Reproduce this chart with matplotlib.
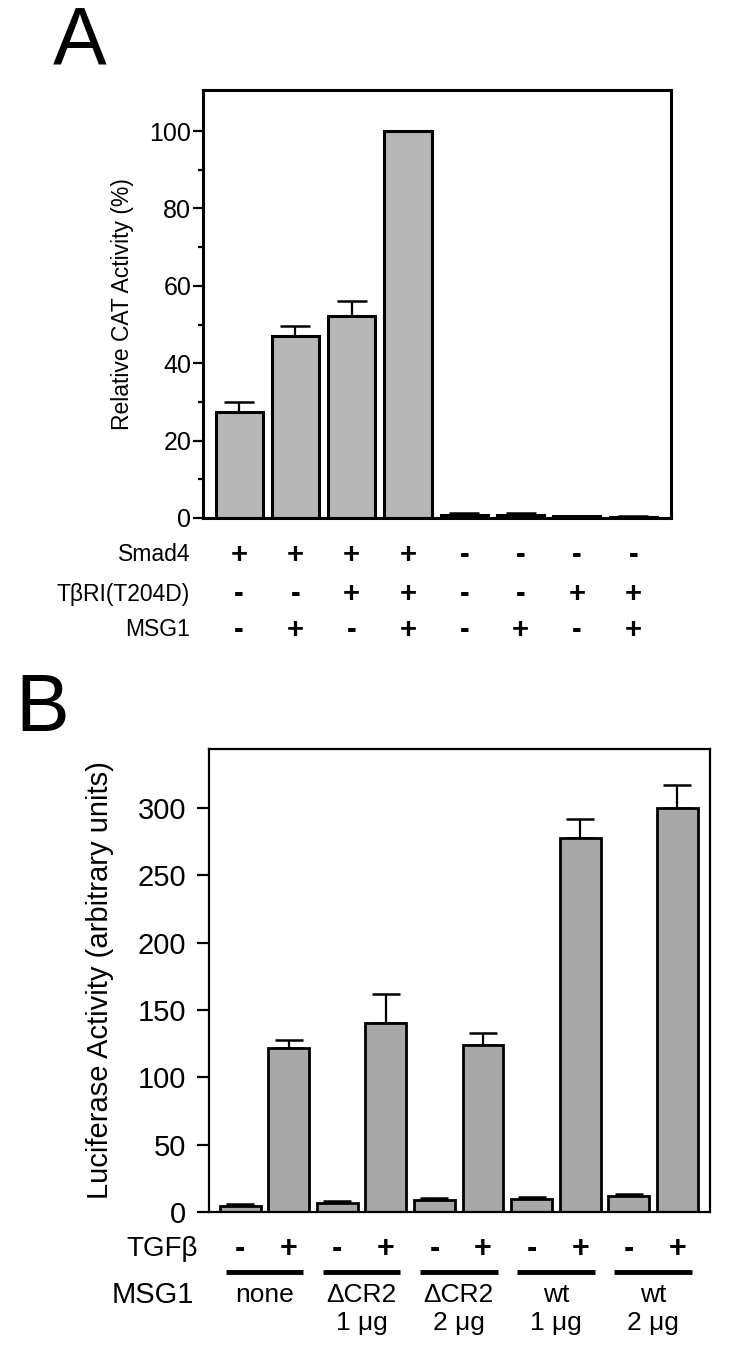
import numpy as np
import matplotlib
matplotlib.use('Agg')
import matplotlib.pyplot as plt
from matplotlib.transforms import blended_transform_factory

plt.rcParams['font.family'] = ['Liberation Sans', 'DejaVu Sans']

# ---- panel A data ----
a_vals = [27.5, 47.0, 52.2, 100.0, 0.9, 0.8, 0.4, 0.3]
a_err = [2.5, 2.7, 3.8, 0.0, 0.4, 0.4, 0.2, 0.1]
smad4 = ['+', '+', '+', '+', '-', '-', '-', '-']
tbri = ['-', '-', '+', '+', '-', '-', '+', '+']
msg1_a = ['-', '+', '-', '+', '-', '+', '-', '+']
a_rows = [('Smad4', smad4), ('TβRI(T204D)', tbri), ('MSG1', msg1_a)]

# ---- panel B data ----
b_vals = [4.5, 122.0, 7.0, 140.0, 9.0, 124.0, 10.0, 278.0, 12.0, 300.0]
b_err = [1.5, 6.0, 1.5, 22.0, 1.5, 9.0, 1.5, 14.0, 1.2, 17.0]
tgfb = ['-', '+'] * 5
msg1_groups = [('none', ''), ('ΔCR2', '1 μg'), ('ΔCR2', '2 μg'),
               ('wt', '1 μg'), ('wt', '2 μg')]

W, H = 732, 1349
fig = plt.figure(figsize=(W / 100, H / 100), dpi=100)


def fy(py):
    return 1 - py / H


# ============================================================
# A
# ============================================================
ax_a = fig.add_axes([203 / W, fy(518), 468 / W, 428 / H])
xa = np.arange(len(a_vals))
ax_a.bar(xa, a_vals, width=0.835, color='#b6b6b6', edgecolor='black',
         linewidth=2.2, zorder=2)
ax_a.errorbar(xa, a_vals, yerr=[np.zeros(len(a_err)), a_err], fmt='none',
              ecolor='black', elinewidth=1.6, capsize=11, capthick=1.8, zorder=1)
ax_a.set_xlim(-0.64, 7.67)
ax_a.set_ylim(0, 110.6)
ax_a.set_yticks([0, 20, 40, 60, 80, 100])
ax_a.set_yticks([10, 30, 50, 70, 90], minor=True)
ax_a.set_xticks([])
ax_a.tick_params(axis='y', which='major', direction='out', length=7, width=1.6,
                 labelsize=18, pad=1.5)
ax_a.tick_params(axis='y', which='minor', direction='out', length=3.5, width=1.6)
for s in ax_a.spines.values():
    s.set_linewidth(2.2)
fig.text(123 / W, fy(304), 'Relative CAT Activity (%)', rotation=90,
         ha='center', va='center', fontsize=16.5)

tr_a = blended_transform_factory(ax_a.transData, fig.transFigure)
for (name, signs), py in zip(a_rows, [555, 594, 630]):
    fig.text(190 / W, fy(py), name, ha='right', va='center', fontsize=16.5)
    for i, sg in enumerate(signs):
        ax_a.text(i, fy(py), sg, transform=tr_a, ha='center', va='center',
                  fontsize=21, fontweight='bold')

fig.text(53 / W, fy(43), 'A', ha='left', va='center', fontsize=58)

# ============================================================
# B
# ============================================================
ax_b = fig.add_axes([209 / W, fy(1212), 501 / W, 463 / H])
xb = np.arange(len(b_vals))
ax_b.bar(xb, b_vals, width=0.84, color='#a8a8a8', edgecolor='black',
         linewidth=2.0, zorder=2)
ax_b.errorbar(xb, b_vals, yerr=[np.zeros(len(b_err)), b_err], fmt='none',
              ecolor='black', elinewidth=1.6, capsize=10, capthick=1.8, zorder=1)
ax_b.set_xlim(-0.64, 9.67)
ax_b.set_ylim(0, 343.7)
ax_b.set_yticks([0, 50, 100, 150, 200, 250, 300])
ax_b.set_xticks([])
ax_b.tick_params(axis='y', direction='out', length=8.5, width=1.6,
                 labelsize=21, pad=8)
for s in ax_b.spines.values():
    s.set_linewidth(1.6)
fig.text(100 / W, fy(980), 'Luciferase Activity (arbitrary units)',
         rotation=90, ha='center', va='center', fontsize=21)

tr_b = blended_transform_factory(ax_b.transData, fig.transFigure)
fig.text(198 / W, fy(1249), 'TGFβ', ha='right', va='center', fontsize=20)
for i, sg in enumerate(tgfb):
    ax_b.text(i, fy(1249), sg, transform=tr_b, ha='center', va='center',
              fontsize=22, fontweight='bold')

fig.text(194 / W, fy(1295), 'MSG1', ha='right', va='center', fontsize=21)
for g, (l1, l2) in enumerate(msg1_groups):
    x0 = 2 * g
    ax_b.plot([x0 - 0.3, x0 + 1.3], [fy(1272), fy(1272)], transform=tr_b,
              color='black', linewidth=3.5, solid_capstyle='butt',
              clip_on=False)
    ax_b.text(x0 + 0.5, fy(1295), l1, transform=tr_b, ha='center',
              va='center', fontsize=19)
    if l2:
        ax_b.text(x0 + 0.5, fy(1323), l2, transform=tr_b, ha='center',
                  va='center', fontsize=19)

fig.text(15 / W, fy(710), 'B', ha='left', va='center', fontsize=58)

fig.savefig('out.png', dpi=100)
